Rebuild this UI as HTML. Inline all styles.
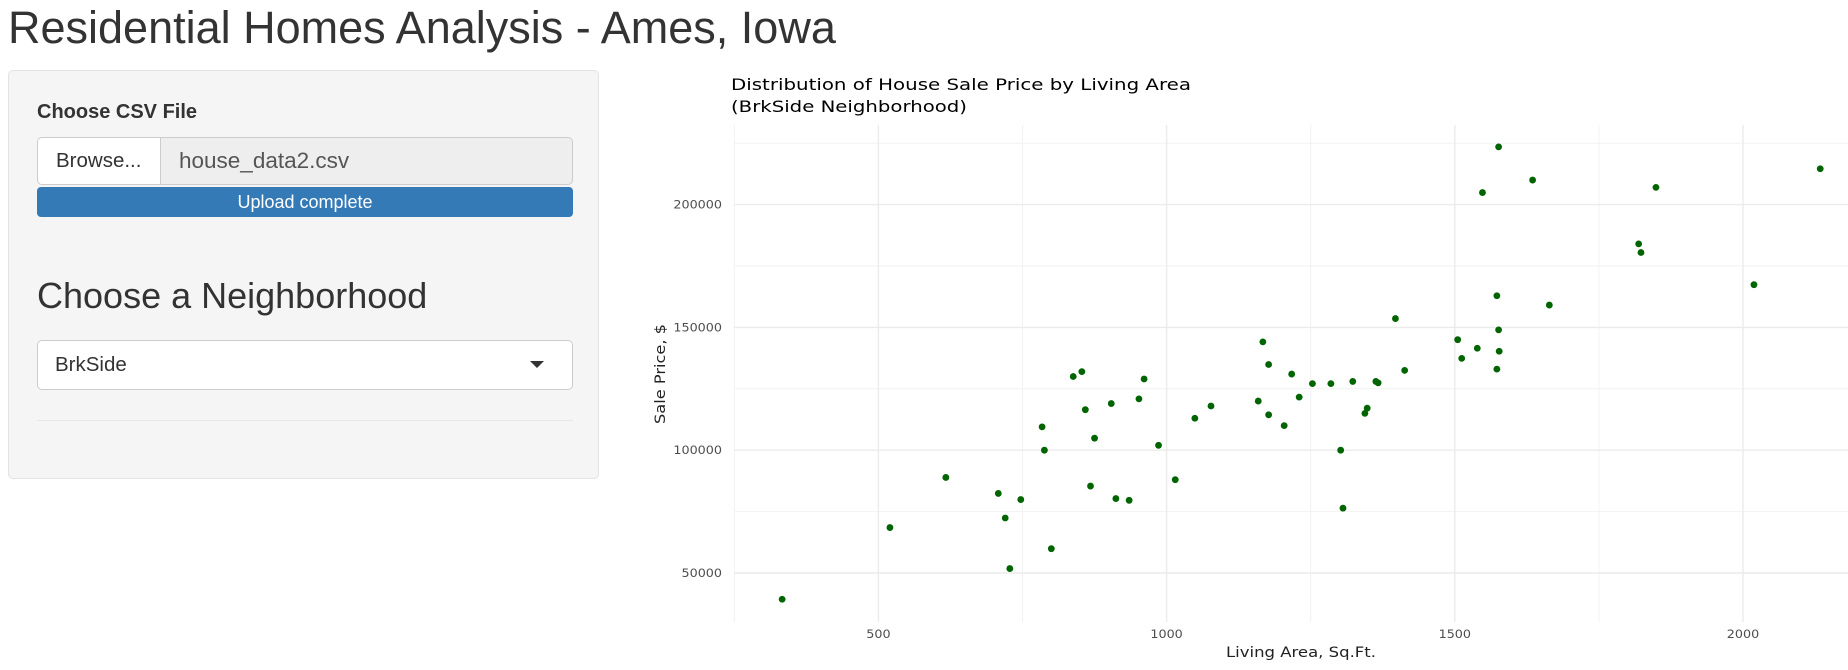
<!DOCTYPE html>
<html><head><meta charset="utf-8">
<style>
body{margin:0;width:1848px;height:670px;background:#fff;font-family:"Liberation Sans",Arial,sans-serif;color:#333;position:relative;overflow:hidden}
h1{position:absolute;left:8px;top:0px;margin:0;font-weight:400;font-size:45px;line-height:56px}
.well{position:absolute;left:8px;top:70px;width:591px;height:409px;background:#f5f5f5;border:1px solid #e3e3e3;border-radius:5px;box-sizing:border-box}
.lbl{position:absolute;left:28px;top:30px;font-weight:700;font-size:20px}
.file{position:absolute;left:28px;top:66px;width:536px;height:48px;border:1px solid #ccc;border-radius:5px;box-sizing:border-box;background:#eee;overflow:hidden}
.browse{position:absolute;left:0;top:0;width:123px;height:46px;background:#fff;border-right:1px solid #ccc;font-size:20.5px;line-height:46px;padding-left:18px;box-sizing:border-box}
.fname{position:absolute;left:141px;top:0;font-size:22.5px;line-height:46px;color:#555}
.prog{position:absolute;left:28px;top:116px;width:536px;height:30px;background:#337ab7;border-radius:4px;color:#fff;font-size:18px;line-height:30px;text-align:center}
.h2{position:absolute;left:28px;top:204px;font-size:36px;line-height:42px}
.sel{position:absolute;left:28px;top:269px;width:536px;height:50px;border:1px solid #ccc;border-radius:5px;box-sizing:border-box;background:#fff;font-size:20.5px;line-height:48px;padding-left:17px}
.caret{position:absolute;right:28px;top:20px;width:0;height:0;border-left:7px solid transparent;border-right:7px solid transparent;border-top:7px solid #333}
.hr{position:absolute;left:28px;top:349px;width:536px;border-top:1px solid #e6e6e6}
svg{position:absolute;left:0;top:0}
</style></head><body>
<h1>Residential Homes Analysis - Ames, Iowa</h1>
<div class="well">
<div class="lbl">Choose CSV File</div>
<div class="file">
<div class="browse">Browse...</div>
<div class="fname">house_data2.csv</div></div>
<div class="prog">Upload complete</div>
<div class="h2">Choose a Neighborhood</div>
<div class="sel">BrkSide<div class="caret"></div></div>
<div class="hr"></div>
</div>
<svg id="chart" width="1848" height="670"></svg>
<script>
const xTicks=[500,1000,1500,2000];
const yTicks=[50000,100000,150000,200000];
const areaVals=[333,520,617,708,720,728,747,784,788,800,838,853,859,868,875,904,912,935,952,961,986,1015,1049,1077,1159,1167,1177,1177,1204,1217,1230,1253,1285,1302,1306,1323,1344,1348,1363,1367,1397,1413,1505,1512,1539,1548,1573,1576,1576,1577,1573,1635,1664,1819,1823,1849,2019,2134];
const priceVals=[39300,68500,88900,82400,72400,51800,79900,109500,100000,59900,130000,132000,116500,85400,104900,119000,80300,79600,120900,129000,102000,88000,113000,118000,120000,144100,134900,114400,110000,131000,121600,127100,127100,100000,76400,128000,115000,117100,128000,127400,153600,132500,145000,137400,141500,204900,162900,223500,149000,140300,133000,210000,159100,184000,180500,207000,167400,214600];
const NS='http://www.w3.org/2000/svg';
const svg=document.getElementById('chart');
const L=734,R=1848,T=125,B=622;
const sx=v=>878.4+(v-500)*288.2/500;
const sy=v=>573-(v-50000)*122.8/50000;
const FF='DejaVu Sans, Liberation Sans, sans-serif';
function mk(tag,attrs,parent){const e=document.createElementNS(NS,tag);for(const k in attrs)e.setAttribute(k,attrs[k]);(parent||svg).appendChild(e);return e;}
for(let v=250;v<=2250;v+=500){const x=sx(v);if(x<L-1||x>R)continue;
const g=mk('line',{x1:x,x2:x,y1:T,y2:B,stroke:'#f2f2f2','stroke-width':1});

}
for(let v=25000;v<=250000;v+=50000){const y=sy(v);if(y<T||y>B)continue;
const g=mk('line',{x1:L,x2:R,y1:y,y2:y,stroke:'#f2f2f2','stroke-width':1});

}
xTicks.forEach(v=>{const x=sx(v);
const g=mk('line',{x1:x,x2:x,y1:T,y2:B,stroke:'#ebebeb','stroke-width':1.4});


const n=String(v).length;
const t=mk('text',{x:x,y:638,'text-anchor':'middle','font-size':11.5,fill:'#4d4d4d','font-family':FF,textLength:n*8.1,lengthAdjust:'spacingAndGlyphs'});
t.textContent=v;

});
yTicks.forEach(v=>{const y=sy(v);
const g=mk('line',{x1:L,x2:R,y1:y,y2:y,stroke:'#ebebeb','stroke-width':1.4});


const n=String(v).length;
const t=mk('text',{x:722-n*8.1,y:y+4,'font-size':11.5,fill:'#4d4d4d','font-family':FF,textLength:n*8.1,lengthAdjust:'spacingAndGlyphs'});
t.textContent=v;

});
areaVals.forEach((a,i)=>{const c=mk('circle',{cx:sx(a),cy:sy(priceVals[i]),r:3.4,fill:'#006400'});

});
const t1=mk('text',{x:731,y:90,'font-size':16,fill:'#000','font-family':FF,textLength:460,lengthAdjust:'spacingAndGlyphs'});
t1.textContent='Distribution of House Sale Price by Living Area';


const t2=mk('text',{x:731,y:112,'font-size':16,fill:'#000','font-family':FF,textLength:236,lengthAdjust:'spacingAndGlyphs'});
t2.textContent='(BrkSide Neighborhood)';


const xl=mk('text',{x:1226,y:657,'font-size':14.5,fill:'#222','font-family':FF,textLength:150,lengthAdjust:'spacingAndGlyphs'});
xl.textContent='Living Area, Sq.Ft.';


const yl=mk('text',{x:0,y:0,'font-size':14.5,fill:'#222','font-family':FF,textLength:100,lengthAdjust:'spacingAndGlyphs',transform:'translate(665,424) rotate(-90)'});
yl.textContent='Sale Price, $';


</script>
</body></html>
